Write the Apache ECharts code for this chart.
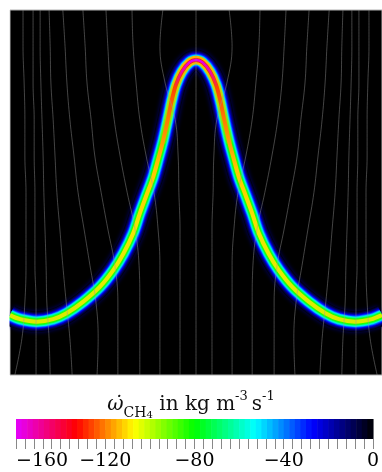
<!DOCTYPE html>
<html>
<head>
<meta charset="utf-8">
<script src="https://cdn.jsdelivr.net/npm/echarts@6/dist/echarts.min.js"></script>
<style>
  html, body { margin: 0; padding: 0; background: #fff; }
  #main { width: 382px; height: 472px; }
</style>
</head>
<body>
<div id="main"></div>
<script>
// flame front centre line, x/L and y/H
var flameX = [0.000, 0.027, 0.072, 0.116, 0.152, 0.197, 0.242, 0.278, 0.305, 0.331, 0.349, 0.367, 0.385, 0.399, 0.412, 0.424, 0.435, 0.446, 0.462, 0.482, 0.500,
              0.518, 0.538, 0.554, 0.565, 0.576, 0.588, 0.601, 0.615, 0.633, 0.651, 0.669, 0.695, 0.722, 0.758, 0.803, 0.848, 0.884, 0.928, 0.973, 1.000];
var flameY = [0.164, 0.153, 0.146, 0.153, 0.169, 0.201, 0.242, 0.288, 0.333, 0.388, 0.443, 0.493, 0.543, 0.594, 0.644, 0.699, 0.753, 0.795, 0.831, 0.856, 0.863,
              0.856, 0.831, 0.795, 0.753, 0.699, 0.644, 0.594, 0.543, 0.493, 0.443, 0.388, 0.333, 0.288, 0.242, 0.201, 0.169, 0.153, 0.146, 0.153, 0.164];

// streamlines: x/L at fixed heights y/H
var streamY = [0, 0.1, 0.2, 0.3, 0.4, 0.5, 0.6, 0.7, 0.8, 0.9, 1.0];
var streamX = [
  [0.013, 0.032, 0.040, 0.043, 0.043, 0.043, 0.040, 0.040, 0.038, 0.035, 0.035],
  [0.070, 0.070, 0.070, 0.067, 0.067, 0.067, 0.065, 0.065, 0.062, 0.062, 0.062],
  [0.108, 0.105, 0.099, 0.097, 0.094, 0.091, 0.089, 0.086, 0.083, 0.081, 0.081],
  [0.167, 0.161, 0.151, 0.142, 0.134, 0.126, 0.121, 0.116, 0.110, 0.108, 0.105],
  [0.234, 0.237, 0.231, 0.215, 0.199, 0.183, 0.172, 0.161, 0.153, 0.148, 0.142],
  [0.290, 0.290, 0.290, 0.282, 0.263, 0.245, 0.228, 0.218, 0.207, 0.202, 0.196],
  [0.349, 0.349, 0.349, 0.347, 0.336, 0.315, 0.296, 0.280, 0.269, 0.263, 0.258],
  [0.403, 0.403, 0.403, 0.403, 0.398, 0.387, 0.366, 0.349, 0.339, 0.331, 0.328],
  [0.457, 0.457, 0.457, 0.457, 0.457, 0.454, 0.452, 0.444, 0.417, 0.403, 0.411],
  [0.500, 0.500, 0.500, 0.500, 0.500, 0.500, 0.500, 0.500, 0.500, 0.500, 0.500],
  [0.543, 0.543, 0.543, 0.543, 0.543, 0.546, 0.548, 0.556, 0.583, 0.597, 0.589],
  [0.597, 0.597, 0.597, 0.597, 0.602, 0.613, 0.634, 0.651, 0.661, 0.669, 0.672],
  [0.651, 0.651, 0.651, 0.653, 0.664, 0.685, 0.704, 0.720, 0.731, 0.737, 0.742],
  [0.710, 0.710, 0.710, 0.718, 0.737, 0.755, 0.772, 0.782, 0.793, 0.798, 0.804],
  [0.766, 0.763, 0.769, 0.785, 0.801, 0.817, 0.828, 0.839, 0.847, 0.852, 0.858],
  [0.833, 0.839, 0.849, 0.858, 0.866, 0.874, 0.879, 0.884, 0.890, 0.892, 0.895],
  [0.892, 0.895, 0.901, 0.903, 0.906, 0.909, 0.911, 0.914, 0.917, 0.919, 0.919],
  [0.930, 0.930, 0.930, 0.933, 0.933, 0.933, 0.935, 0.935, 0.938, 0.938, 0.938],
  [0.987, 0.968, 0.960, 0.957, 0.957, 0.957, 0.960, 0.960, 0.962, 0.965, 0.965]
];

// colour bar
var cbarMin = -160, cbarMax = 0, cbarStep = 2.5;
var cbarTicks = [-160, -120, -80, -40, 0];
var cmapStops = [[-160, '#e400ff'], [-133, '#ff0000'], [-107, '#ffff00'], [-80, '#00ff00'], [-53, '#00ffff'], [-27, '#0000ff'], [0, '#000000']];

function hexRgb(h) {
  return [parseInt(h.slice(1, 3), 16), parseInt(h.slice(3, 5), 16), parseInt(h.slice(5, 7), 16)];
}
function cmap(v) {
  for (var i = 0; i < cmapStops.length - 1; i++) {
    var a = cmapStops[i], b = cmapStops[i + 1];
    if (v <= b[0]) {
      var t = Math.max(0, Math.min(1, (v - a[0]) / (b[0] - a[0])));
      var ca = hexRgb(a[1]), cb = hexRgb(b[1]);
      return 'rgb(' + ca.map(function (c, k) { return Math.round(c + (cb[k] - c) * t); }).join(',') + ')';
    }
  }
  return cmapStops[cmapStops.length - 1][1];
}

var flameData = flameX.map(function (x, i) { return [x, flameY[i]]; });
function flameAbove(y0) {
  return flameData.filter(function (p) { return p[1] >= y0; });
}

var chart = echarts.init(document.getElementById('main'));

var series = [];
var visualMaps = [];
// band of the flame: outer layers (width, colormap value)
var flameLayers = [[21, -2], [19, -7], [17, -13], [15, -20], [13.5, -28], [12, -37], [10.5, -48], [9, -60], [7.5, -72], [6, -84]];
flameLayers.forEach(function (l, i) {
  series.push({
    type: 'line', data: flameData, smooth: 0.35, showSymbol: false, silent: true,
    lineStyle: { width: l[0], color: cmap(l[1]), cap: 'butt', join: 'round',
      shadowBlur: i === 0 ? 4 : 0, shadowColor: 'rgba(0,0,120,0.8)' }
  });
});
// wider yellow/orange near the tip
visualMaps.push({ show: false, type: 'continuous', dimension: 1, seriesIndex: series.length, min: 0.6, max: 0.87,
  inRange: { color: ['rgba(255,230,0,0)', 'rgba(255,210,0,0.6)', '#ffb000'] } });
series.push({ type: 'line', data: flameAbove(0.6), smooth: 0.35, showSymbol: false, silent: true,
  lineStyle: { width: 8.5, cap: 'round' } });
// centre of the band
visualMaps.push({ show: false, type: 'continuous', dimension: 1, seriesIndex: series.length, min: 0.1, max: 0.87,
  inRange: { color: ['#d8e800', '#e4ec00', '#f4e400', '#ffc800', '#ff7000', '#ff1000'] } });
series.push({ type: 'line', data: flameData, smooth: 0.35, showSymbol: false, silent: true,
  lineStyle: { width: 4, cap: 'butt' } });
// magenta core at the tip
visualMaps.push({ show: false, type: 'continuous', dimension: 1, seriesIndex: series.length, min: 0.78, max: 0.87,
  inRange: { color: ['rgba(230,0,200,0)', 'rgba(230,0,220,0.7)', '#e000ff'] } });
series.push({ type: 'line', data: flameAbove(0.78), smooth: 0.35, showSymbol: false, silent: true,
  lineStyle: { width: 2.5, cap: 'round' } });

// streamlines
streamX.forEach(function (xs) {
  series.push({
    type: 'line', data: xs.map(function (x, k) { return [x, streamY[k]]; }),
    smooth: 0.4, showSymbol: false, silent: true, z: 5,
    lineStyle: { width: 1, color: 'rgba(150,150,150,0.45)' }
  });
});

// colour bar cells
var cbarData = [];
for (var v = cbarMin; v < cbarMax; v += cbarStep) cbarData.push([v, v + cbarStep]);
series.push({
  type: 'custom', xAxisIndex: 1, yAxisIndex: 1, data: cbarData, silent: true,
  renderItem: function (params, api) {
    var a = api.coord([api.value(0), 0]);
    var b = api.coord([api.value(1), 1]);
    return {
      type: 'rect',
      shape: { x: a[0], y: b[1], width: b[0] - a[0] + 0.6, height: a[1] - b[1] },
      style: { fill: cmap((api.value(0) + api.value(1)) / 2) }
    };
  }
});

var labelFont = 'DejaVu Serif';
var option = {
  animation: false,
  backgroundColor: '#fff',
  // white margin left of the field (wide flame lines spill past the clip)
  graphic: [{ type: 'rect', left: 0, top: 0, z: 100, shape: { width: 9.5, height: 380 }, style: { fill: '#fff' }, silent: true }],
  title: {
    left: 'center',
    top: 385,
    text: '{w|\u03c9\u0307}{sub|CH}{sub4|4}{n| in kg m}{sup|-3}{n|\u2009s}{sup|-1}',
    textStyle: {
      fontWeight: 'normal',
      rich: {
        w: { fontFamily: labelFont, fontStyle: 'italic', fontWeight: 'normal', fontSize: 20, color: '#111', lineHeight: 30 },
        sub: { fontFamily: labelFont, fontWeight: 'normal', fontSize: 14, color: '#111', lineHeight: 16, verticalAlign: 'bottom' },
        sub4: { fontFamily: labelFont, fontWeight: 'normal', fontSize: 10, color: '#111', lineHeight: 10, verticalAlign: 'bottom' },
        n: { fontFamily: labelFont, fontWeight: 'normal', fontSize: 20, color: '#111', lineHeight: 30 },
        sup: { fontFamily: labelFont, fontWeight: 'normal', fontSize: 13, color: '#111', lineHeight: 14, verticalAlign: 'top' }
      }
    }
  },
  visualMap: visualMaps,
  grid: [
    { left: 10, top: 10, width: 372, height: 365, show: true, backgroundColor: '#000', borderColor: '#b0b0b0', borderWidth: 1 },
    { left: 16, top: 419, width: 361, height: 20 }
  ],
  xAxis: [
    { type: 'value', gridIndex: 0, min: 0, max: 1, show: false },
    { type: 'value', gridIndex: 1, min: cbarMin, max: cbarMax, interval: 40, position: 'bottom',
      axisLine: { show: false },
      axisTick: { show: true, length: 10, lineStyle: { color: '#888', width: 1 } },
      minorTick: { show: true, splitNumber: 10, length: 10, lineStyle: { color: '#888', width: 1 } },
      splitLine: { show: false },
      axisLabel: { margin: 13, fontFamily: labelFont, fontSize: 19, color: '#000', alignMinLabel: 'left',
        customValues: cbarTicks,
        formatter: function (val) { return String(val).replace('-', '\u2212'); } } },
    { type: 'value', gridIndex: 1, min: cbarMin, max: cbarMax, interval: 40, position: 'bottom',
      axisLine: { show: false },
      axisTick: { show: true, inside: true, length: 9, customValues: [-120, -80, -40], lineStyle: { color: '#888', width: 1 } },
      axisLabel: { show: false }, splitLine: { show: false } }
  ],
  yAxis: [
    { type: 'value', gridIndex: 0, min: 0, max: 1, show: false },
    { type: 'value', gridIndex: 1, min: 0, max: 1, show: false }
  ],
  series: series
};

chart.setOption(option);
window.addEventListener('resize', function () { chart.resize(); });
</script>
</body>
</html>
